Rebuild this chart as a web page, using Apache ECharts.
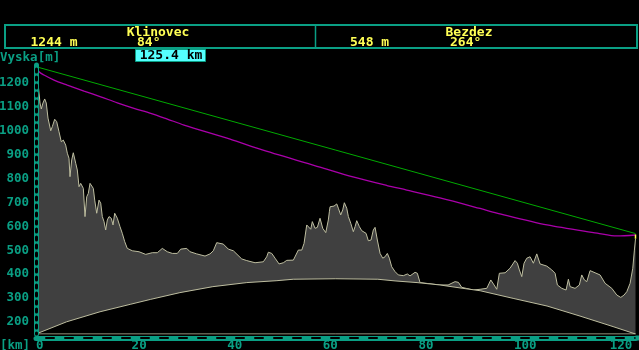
<!DOCTYPE html>
<html>
<head>
<meta charset="utf-8">
<script src="https://cdn.jsdelivr.net/npm/echarts@6/dist/echarts.min.js"></script>
<style>html,body{margin:0;padding:0;background:#000;}#c{width:639px;height:350px;}</style>
</head>
<body>
<div id="c"></div>
<script>
// ---- data ----
const xTicks = [0, 20, 40, 60, 80, 100, 120];
const yTicks = [200, 300, 400, 500, 600, 700, 800, 900, 1000, 1100, 1200];
const pathLengthKm = 125.4;

const terrainKm = [0, 0.15, 0.42, 0.63, 0.84, 1.11, 1.46, 1.82, 2.15, 2.51,
  3.08, 3.41, 3.91, 4.33, 4.81, 5.29, 5.71, 6.21, 6.55, 6.9,
  7.11, 7.47, 7.8, 8.31, 8.64, 9.0, 9.35, 9.9, 10.25, 10.61,
  10.94, 11.3, 11.65, 11.99, 12.28, 12.7, 13.18, 13.54, 13.87, 14.23,
  14.58, 14.92, 15.27, 15.75, 16.11, 16.46, 17.01, 17.57, 18.05, 18.56,
  19.1, 20.15, 21.55, 22.95, 24.33, 25.38, 26.42, 27.47, 28.51, 29.56,
  30.27, 31.53, 32.22, 33.62, 35.36, 36.4, 37.09, 37.8, 39.18, 40.23,
  41.28, 43.03, 44.08, 45.82, 47.55, 48.26, 48.6, 49.31, 50.0, 50.84,
  51.74, 52.45, 53.83, 54.87, 55.59, 56.07, 56.63, 56.97, 57.47, 57.8,
  58.37, 58.85, 59.41, 59.98, 60.61, 61.15, 61.36, 61.51, 61.86, 62.34,
  62.91, 63.24, 63.74, 64.16, 64.5, 65.0, 65.34, 65.84, 66.38, 66.74,
  67.09, 67.64, 68.14, 69.04, 69.52, 70.08, 70.56, 70.92, 71.4, 71.97,
  72.53, 73.01, 73.49, 73.91, 74.41, 75.1, 75.79, 76.84, 77.68, 78.24,
  79.29, 79.77, 80.33, 84.5, 86.2, 87.66, 88.35, 89.06, 91.49, 92.89,
  94.29, 95.13, 95.82, 96.38, 96.92, 98.12, 99.16, 100.21, 100.69, 101.11,
  101.61, 102.09, 102.66, 103.35, 104.04, 104.75, 105.44, 106.84, 107.89, 108.58,
  109.06, 109.98, 110.88, 111.36, 111.72, 112.76, 113.66, 114.16, 114.71, 115.21,
  115.9, 116.95, 117.99, 119.04, 120.44, 121.49, 122.32, 123.01, 123.58, 124.27,
  124.83, 125.17, 125.4];
const terrainM = [1244, 1240, 1200, 1158, 1116, 1091, 1116, 1133, 1116, 1053,
  1000, 1017, 1048, 1038, 996, 954, 961, 940, 906, 885,
  808, 878, 908, 864, 836, 766, 780, 759, 641, 724,
  738, 780, 787, 759, 710, 655, 710, 697, 641, 620,
  585, 627, 641, 634, 606, 655, 634, 599, 571, 536,
  508, 498, 494, 483, 490, 490, 508, 494, 487, 487,
  505, 508, 494, 485, 476, 485, 498, 532, 526, 505,
  498, 464, 457, 448, 452, 473, 492, 487, 467, 443,
  448, 458, 459, 501, 501, 529, 606, 613, 588, 620,
  592, 596, 634, 592, 574, 627, 661, 682, 676, 685,
  694, 676, 648, 669, 699, 676, 641, 613, 578, 599,
  624, 599, 582, 571, 540, 543, 585, 596, 543, 487,
  467, 473, 487, 467, 431, 411, 397, 394, 401, 393,
  408, 404, 365, 355, 355, 369, 366, 345, 334, 337,
  341, 376, 355, 337, 404, 406, 425, 457, 446, 418,
  390, 446, 467, 473, 446, 485, 443, 434, 418, 404,
  355, 341, 334, 379, 348, 341, 355, 397, 376, 369,
  415, 406, 397, 362, 341, 313, 303, 313, 327, 362,
  425, 501, 548];

// earth-bulge baseline
const curveKm = [0, 6.4, 13.4, 19.7, 24.0, 30.1, 37.0, 44.1, 50.4, 53.8, 62.7, 71.5, 75.1, 79.7, 84.5, 89.3, 92.9, 99.8, 106.9, 113.8, 120.7, 125.4];
const curveM  = [150, 201, 243, 274, 295, 323, 348, 365, 373, 379, 381, 379, 372, 365, 355, 341, 331, 299, 267, 225, 181, 150];

// line of sight (green) and curved ray (magenta)
const losKm = [0, 125.4];
const losM  = [1268, 570];
const rayKm = [0, 0.63, 1.67, 3.77, 6.55, 10.04, 13.54, 17.01, 20.5, 24.0, 27.47, 30.96, 40.6, 47.5, 59.4, 66.3, 73.4, 77.55, 84.5, 92.9, 96.4, 106.9, 117.4, 121.5, 125.4];
const rayM  = [1270, 1247, 1233, 1212, 1191, 1166, 1142, 1117, 1094, 1073, 1049, 1024, 965, 919, 848, 807, 771, 752, 719, 675, 656, 606, 572, 560, 564];

// antennas
const antAKm = [0, 0];       const antAM = [1244, 1270];
const antBKm = [125.4, 125.4]; const antBM = [548, 566];
const baseKm = [0, 125.4];   const baseM = [150, 150];

// header texts
const siteA = { name: 'Klinovec', height: '1244 m', azimuth: '84°' };
const siteB = { name: 'Bezdez', height: '548 m', azimuth: '264°' };
const distanceLabel = '125.4 km';
const yTitle = 'Vyska[m]';
const xTitle = '[km]';

// ---- styling ----
const TEAL = '#0a9f84';
const YELLOW = '#ffff55';
const KHAKI = '#bebea0';
const FONT = '"DejaVu Sans Mono", monospace';

const zip = (a, b) => a.map((v, i) => [v, b[i]]);

const chart = echarts.init(document.getElementById('c'), null, { renderer: 'canvas' });

const axisLabelCommon = { color: TEAL, fontFamily: FONT, fontWeight: 'bold', fontSize: 12.5, formatter: v => String(v) };

const option = {
  backgroundColor: '#000',
  animation: false,
  grid: { left: 36, right: 3.5, top: 65, bottom: 16, containLabel: false, outerBoundsMode: 'none' },
  xAxis: [
    {
      type: 'value', min: 0, max: pathLengthKm, position: 'bottom', offset: 4, z: 10,
      axisLine: { lineStyle: { color: TEAL, width: 5 } },
      axisTick: { show: false }, splitLine: { show: false },
      axisLabel: Object.assign({ customValues: xTicks, align: 'left', margin: 1 }, axisLabelCommon)
    },
    {
      type: 'value', min: 0, max: pathLengthKm, position: 'bottom', offset: 4, z: 11,
      axisLine: { lineStyle: { color: '#000', width: 2, type: [8, 11], dashOffset: 9 } },
      axisTick: { show: false }, splitLine: { show: false }, axisLabel: { show: false }
    }
  ],
  yAxis: [
    {
      type: 'value', min: 150, max: 1275, position: 'left', offset: 4, z: 10,
      axisLine: { lineStyle: { color: TEAL, width: 5 } },
      axisTick: { show: false }, splitLine: { show: false },
      axisLabel: Object.assign({ customValues: yTicks, margin: 3 }, axisLabelCommon)
    },
    {
      type: 'value', min: 150, max: 1275, position: 'left', offset: 4, z: 11,
      axisLine: { lineStyle: { color: '#000', width: 3, type: [3, 5], dashOffset: 2 } },
      axisTick: { show: false }, splitLine: { show: false }, axisLabel: { show: false }
    }
  ],
  series: [
    {
      type: 'line', name: 'terrain', data: zip(terrainKm, terrainM), symbol: 'none', z: 2,
      lineStyle: { color: KHAKI, width: 1 },
      areaStyle: { color: '#404040', opacity: 1, origin: 'start' }
    },
    {
      type: 'line', name: 'bulge', data: zip(curveKm, curveM), symbol: 'none', z: 3,
      lineStyle: { color: KHAKI, width: 1 },
      areaStyle: { color: '#000', opacity: 1, origin: 'start' }
    },
    {
      type: 'line', name: 'base', data: zip(baseKm, baseM), symbol: 'none', z: 4,
      lineStyle: { color: KHAKI, width: 1 }
    },
    {
      type: 'line', name: 'los', data: zip(losKm, losM), symbol: 'none', z: 5,
      lineStyle: { color: '#00aa00', width: 1 }
    },
    {
      type: 'line', name: 'ray', data: zip(rayKm, rayM), symbol: 'none', z: 5, smooth: 0.3,
      lineStyle: { color: '#aa00aa', width: 1.3 }
    },
    {
      type: 'line', name: 'antA', data: zip(antAKm, antAM), symbol: 'none', z: 6,
      lineStyle: { color: YELLOW, width: 1.5 }
    },
    {
      type: 'line', name: 'antB', data: zip(antBKm, antBM), symbol: 'none', z: 6,
      lineStyle: { color: YELLOW, width: 1.5 }
    }
  ],
  graphic: [
    { type: 'rect', shape: { x: 5, y: 25, width: 632, height: 23 }, style: { fill: 'none', stroke: TEAL, lineWidth: 2 }, z: 20 },
    { type: 'line', shape: { x1: 315.5, y1: 25, x2: 315.5, y2: 48 }, style: { stroke: TEAL, lineWidth: 1.5 }, z: 20 },
    { type: 'rect', shape: { x: 635.5, y: 335.5, width: 3.5, height: 5 }, style: { fill: TEAL }, z: 20 },
    { type: 'text', x: 158, y: 32.5, style: { text: siteA.name, fill: YELLOW, font: 'bold 13px ' + FONT, textAlign: 'center', textVerticalAlign: 'middle' }, z: 21 },
    { type: 'text', x: 30.5, y: 42.5, style: { text: siteA.height, fill: YELLOW, font: 'bold 13px ' + FONT, textAlign: 'left', textVerticalAlign: 'middle' }, z: 21 },
    { type: 'text', x: 137, y: 42.5, style: { text: siteA.azimuth, fill: YELLOW, font: 'bold 13px ' + FONT, textAlign: 'left', textVerticalAlign: 'middle' }, z: 21 },
    { type: 'text', x: 469, y: 32.5, style: { text: siteB.name, fill: YELLOW, font: 'bold 13px ' + FONT, textAlign: 'center', textVerticalAlign: 'middle' }, z: 21 },
    { type: 'text', x: 350, y: 42.5, style: { text: siteB.height, fill: YELLOW, font: 'bold 13px ' + FONT, textAlign: 'left', textVerticalAlign: 'middle' }, z: 21 },
    { type: 'text', x: 450, y: 42.5, style: { text: siteB.azimuth, fill: YELLOW, font: 'bold 13px ' + FONT, textAlign: 'left', textVerticalAlign: 'middle' }, z: 21 },
    { type: 'rect', shape: { x: 135.5, y: 49.5, width: 70, height: 12 }, style: { fill: '#55ffff', stroke: TEAL, lineWidth: 1 }, z: 20 },
    { type: 'text', x: 171, y: 55.8, style: { text: distanceLabel, fill: '#000', font: 'bold 13px ' + FONT, textAlign: 'center', textVerticalAlign: 'middle' }, z: 21 },
    { type: 'text', x: 0, y: 57.5, style: { text: yTitle, fill: TEAL, font: 'bold 12.5px ' + FONT, textAlign: 'left', textVerticalAlign: 'middle' }, z: 21 },
    { type: 'text', x: 0, y: 345.5, style: { text: xTitle, fill: TEAL, font: 'bold 12.5px ' + FONT, textAlign: 'left', textVerticalAlign: 'middle' }, z: 21 }
  ]
};
chart.setOption(option);
</script>
</body>
</html>
